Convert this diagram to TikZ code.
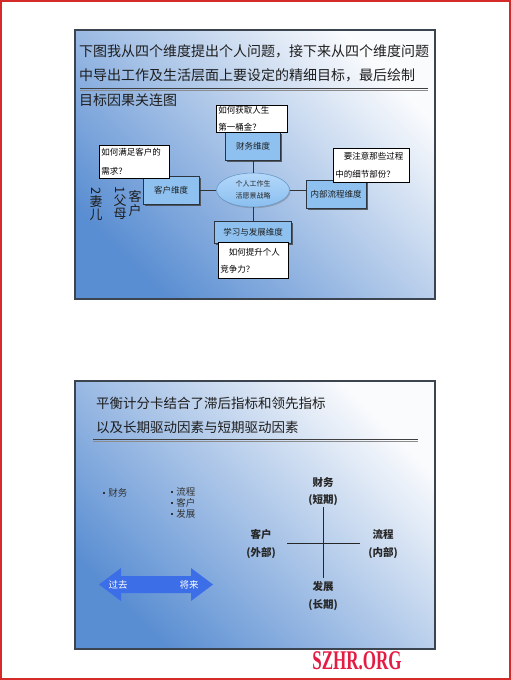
\documentclass[tikz,border=0pt]{standalone}
\usepackage{fontspec}
\setmainfont{Noto Sans CJK SC}
\newfontfamily\wmfont{Liberation Serif}
\usetikzlibrary{shapes.geometric,shadows}
\definecolor{frameRed}{HTML}{D42A2A}
\definecolor{slideBlue}{HTML}{5A8ED2}
\definecolor{slideMid}{HTML}{BFD0E8}
\definecolor{slideTop}{HTML}{FAFBFD}
\definecolor{slideEdge}{HTML}{3C4450}
\definecolor{boxBlue}{HTML}{8EC1F0}
\definecolor{boxEdge}{HTML}{2C3440}
\definecolor{ellTop}{HTML}{B4D8FA}
\definecolor{ellBot}{HTML}{8ABFF0}
\definecolor{ellEdge}{HTML}{6A98C8}
\definecolor{arrowBlue}{HTML}{3C6EE8}
\definecolor{wmRed}{HTML}{E41C44}
\definecolor{textDark}{HTML}{1E1E1E}
\newcommand{\sqbul}{\raisebox{2.6pt}{\rule{2.2pt}{2.2pt}}\hspace{3pt}}
\tikzset{
  slide/.style={top color=slideTop, middle color=slideMid, bottom color=slideBlue, shading angle=-45},
  slideframe/.style={draw=slideEdge, line width=1.4pt},
  titletext/.style={inner sep=0pt, anchor=west, text=textDark, font=\fontsize{14}{14}\selectfont},
  titletextb/.style={inner sep=0pt, anchor=west, text=textDark, font=\fontsize{13.5}{13.5}\selectfont},
  rule1/.style={draw=black!75, line width=0.9pt},
  rule2/.style={draw=black!45, line width=0.7pt},
  dimbox/.style={draw=boxEdge, fill=boxBlue, line width=0.8pt, inner sep=0pt, text=textDark,
    font=\fontsize{8.5}{8.5}\selectfont,
    drop shadow={shadow xshift=1.6pt, shadow yshift=-1.6pt, fill=black!75, opacity=0.8}},
  visionell/.style={ellipse, top color=ellTop, bottom color=ellBot, draw=ellEdge, line width=0.6pt, inner sep=0pt,
    text=black!85, align=center, font=\fontsize{7}{12}\selectfont,
    drop shadow={shadow xshift=1pt, shadow yshift=-1.2pt, fill=black!50, opacity=0.5}},
  link/.style={draw=black!80, line width=1pt},
  callout/.style={draw=black, fill=white, line width=0.7pt, inner xsep=2pt, inner ysep=0pt,
    anchor=north west, align=left, text=black},
  vtext/.style={inner sep=0pt, align=center, text=textDark},
  bul/.style={inner sep=0pt, align=left, text=black!80, font=\fontsize{9.5}{11}\selectfont},
  axislab/.style={inner sep=0pt, align=center, text=black!85, font=\bfseries\fontsize{10.5}{17.5}\selectfont},
  crossline/.style={draw=black!85, line width=0.8pt},
  arrowtext/.style={inner sep=0pt, text=white, font=\fontsize{9.5}{9.5}\selectfont},
  wm/.style={inner sep=0pt, text=wmRed, font=\wmfont\bfseries\fontsize{27}{27}\selectfont}
}
\begin{document}
\begin{tikzpicture}[x=1pt,y=-1pt]
\useasboundingbox (0,0) rectangle (511,680);
\fill[white] (0,0) rectangle (511,680);
\draw[frameRed, line width=1.6pt] (1,1) rectangle (510,679);

% ---------- slide 1 ----------
\shade[slide] (75,30) rectangle (435,299);
\draw[slideframe] (75,30) rectangle (435,299);
\node[titletext] (s1l1) at (79,51) {下图我从四个维度提出个人问题，接下来从四个维度问题};
\node[titletext] (s1l2) at (79,75) {中导出工作及生活层面上要设定的精细目标，最后绘制};
\draw[rule1] (80,88) -- (428,88);
\draw[rule2] (80,90.6) -- (428,90.6);
\node[titletext] (s1l3) at (79,100) {目标因果关连图};

\node[dimbox, minimum width=55, minimum height=28] (fin) at (253,146) {财务维度};
\node[dimbox, minimum width=56, minimum height=28] (cus) at (171,190) {客户维度};
\node[dimbox, minimum width=60, minimum height=28] (pro) at (336,194) {内部流程维度};
\node[dimbox, minimum width=77, minimum height=22] (lea) at (253,232) {学习与发展维度};
\node[visionell, minimum width=73, minimum height=34] (vis) at (253,190) {个人工作生\\活愿景战略};

\draw[link] (fin.south) -- (vis.north);
\draw[link] (vis.south) -- (lea.north);
\draw[link] (cus.east) -- (vis.west);
\draw[link] (vis.east) -- (vis.east -| pro.west);

\node[callout, text width=67, minimum height=27, font=\fontsize{8.5}{17}\selectfont] (qfin) at (216,105) {如何获取人生\\第一桶金？};
\node[callout, text width=66, minimum height=33, font=\fontsize{8.5}{19}\selectfont] (qcus) at (99,145) {如何满足客户的\\需求？};
\node[callout, text width=72, minimum height=34, font=\fontsize{8.5}{18}\selectfont] (qpro) at (333,148) {\hspace*{1em}要注意那些过程\\中的细节部份？};
\node[callout, text width=66, minimum height=36, font=\fontsize{8.5}{17}\selectfont] (qlea) at (218,242) {\hspace*{1em}如何提升个人\\竞争力？};

\node[vtext, font=\fontsize{13}{14}\selectfont] (vc1) at (135,204) {客\\户};
\node[vtext, font=\fontsize{13}{12.5}\selectfont] (vc2) at (120,203) {\rotatebox{-90}{1}\\父\\母};
\node[vtext, font=\fontsize{13}{13.5}\selectfont] (vc3) at (96,204) {\rotatebox{-90}{2}\\妻\\儿};

% ---------- slide 2 ----------
\shade[slide] (75,381) rectangle (435,649);
\draw[slideframe] (75,381) rectangle (435,649);
\node[titletextb] (s2l1) at (96,403) {平衡计分卡结合了滞后指标和领先指标};
\node[titletextb] (s2l2) at (96,427) {以及长期驱动因素与短期驱动因素};
\draw[rule1] (93,439) -- (418,439);
\draw[rule2] (93,441.6) -- (418,441.6);

\node[bul, anchor=west] (b1) at (103,493) {\sqbul 财务};
\node[bul, anchor=north west] (b2) at (171,487.5) {\sqbul 流程\\\sqbul 客户\\\sqbul 发展};

\coordinate (vt) at (323,507);
\coordinate (vb) at (323,578);
\coordinate (hl) at (287,543);
\coordinate (hr) at (360,543);
\draw[crossline] (vt) -- (vb);
\draw[crossline] (hl) -- (hr);
\node[axislab] (afin) at (323,491.5) {财务\\(短期)};
\node[axislab] (acus) at (261,544) {客户\\(外部)};
\node[axislab] (apro) at (383,544) {流程\\(内部)};
\node[axislab] (alea) at (323,596) {发展\\(长期)};

\fill[arrowBlue] (99,584.5) -- (121,568) -- (121,576) -- (191,576) -- (191,568) -- (213,584.5)
  -- (191,601) -- (191,593) -- (121,593) -- (121,601) -- cycle;
\node[arrowtext] (past) at (118,585) {过去};
\node[arrowtext] (futr) at (189,585) {将来};

\node[wm] (wmk) at (357,661) {\scalebox{0.63}[1]{SZHR.ORG}};
\end{tikzpicture}
\end{document}
